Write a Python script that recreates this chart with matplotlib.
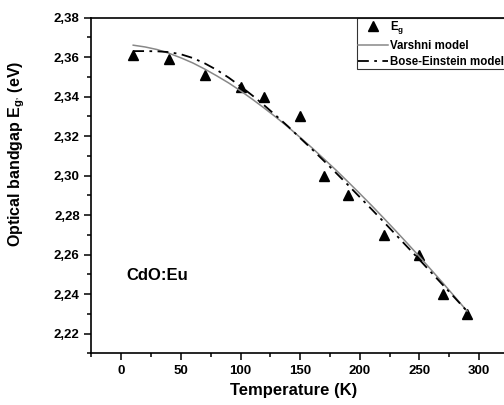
import matplotlib
matplotlib.use('Agg')
import matplotlib.pyplot as plt
from matplotlib.ticker import MultipleLocator, FuncFormatter

# measured band gap of CdO:Eu versus temperature
temp = [10, 40, 70, 100, 120, 150, 170, 190, 220, 250, 270, 290]
eg = [2.361, 2.359, 2.351, 2.345, 2.340, 2.330, 2.300, 2.290, 2.270, 2.260, 2.240, 2.230]

# fitted curves, sampled every 10 K
t_fit = [10, 20, 30, 40, 50, 60, 70, 80, 90, 100, 110, 120, 130, 140, 150,
         160, 170, 180, 190, 200, 210, 220, 230, 240, 250, 260, 270, 280, 290]
varshni = [2.3660, 2.3651, 2.3638, 2.3619, 2.3596, 2.3570, 2.3539, 2.3505, 2.3469, 2.3429,
           2.3386, 2.3341, 2.3294, 2.3245, 2.3193, 2.3140, 2.3084, 2.3028, 2.2969, 2.2909,
           2.2848, 2.2785, 2.2721, 2.2656, 2.2590, 2.2522, 2.2454, 2.2384, 2.2314]
bose = [2.3630, 2.3630, 2.3629, 2.3625, 2.3614, 2.3595, 2.3568, 2.3535, 2.3496, 2.3452,
        2.3405, 2.3355, 2.3302, 2.3248, 2.3190, 2.3133, 2.3074, 2.3014, 2.2953, 2.2891,
        2.2829, 2.2766, 2.2702, 2.2638, 2.2574, 2.2509, 2.2444, 2.2379, 2.2313]

plt.rcParams['font.family'] = 'Liberation Sans'
plt.rcParams['font.weight'] = 'bold'
plt.rcParams['mathtext.fontset'] = 'custom'
plt.rcParams['mathtext.rm'] = 'Liberation Sans:bold'
plt.rcParams['mathtext.it'] = 'Liberation Sans:bold'
plt.rcParams['mathtext.bf'] = 'Liberation Sans:bold'

fig = plt.figure(figsize=(5.04, 4.05), dpi=100)
ax = fig.add_axes([0.1815, 0.1277, 0.828, 0.829])

ax.plot(temp, eg, linestyle='none', marker='^', color='black', markersize=7, label=r'$\mathrm{E_g}$')
ax.plot(t_fit, varshni, color='#888888', linewidth=1.1, label='Varshni model')
ax.plot(t_fit, bose, color='black', linewidth=1.3, dashes=(6, 3, 1.5, 3), label='Bose-Einstein model')

ax.set_xlim(-25, 325)
ax.set_ylim(2.21, 2.38)
ax.xaxis.set_major_locator(MultipleLocator(50))
ax.xaxis.set_minor_locator(MultipleLocator(25))
ax.yaxis.set_major_locator(MultipleLocator(0.02))
ax.yaxis.set_minor_locator(MultipleLocator(0.01))
ax.yaxis.set_major_formatter(FuncFormatter(lambda v, p: ('%.2f' % v).replace('.', ',')))

ax.tick_params(which='both', direction='out', width=1.1, labelsize=9.5, top=False, right=False)
ax.tick_params(which='major', length=5)
ax.tick_params(which='minor', length=3)
for s in ax.spines.values():
    s.set_linewidth(1.2)

ax.set_xlabel('Temperature (K)', fontsize=12, fontweight='bold')
ax.xaxis.set_label_coords(0.485, -0.088)
ax.set_ylabel(r'Optical bandgap E$_{\mathrm{g}^{,}}$ (eV)', fontsize=11.5, fontweight='bold')
ax.yaxis.set_label_coords(-0.155, 0.593)

ax.text(4.5, 2.2495, 'CdO:Eu', fontsize=12, fontweight='bold', va='center')

leg = ax.legend(loc='upper left', bbox_to_anchor=(0.636, 1.0), fontsize=8.3, frameon=True,
                fancybox=False, borderpad=0.1, labelspacing=0.35, handlelength=2.6,
                handletextpad=0.15, borderaxespad=0.0)
leg.get_frame().set_edgecolor('black')
leg.get_frame().set_linewidth(0.8)

fig.savefig('out.png', dpi=100)
